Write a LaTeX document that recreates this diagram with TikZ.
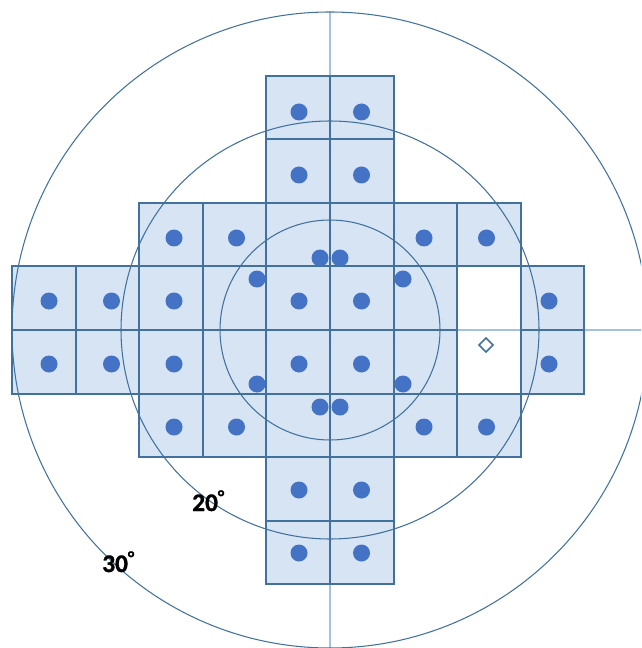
\documentclass[tikz,border=0pt]{standalone}
\usepackage{fontspec}
\setmainfont{Carlito}[BoldFont={Carlito Bold}]
\newfontfamily\lblfont{Carlito Bold}[FakeBold=1.2]
\usepackage{xcolor}
\definecolor{cellfill}{HTML}{D6E4F4}
\definecolor{cellline}{HTML}{41719C}
\definecolor{ringline}{HTML}{41719C}
\definecolor{axisline}{HTML}{A3C2E3}
\definecolor{dotblue}{HTML}{4472C4}
\usepackage{tikz}
\usetikzlibrary{positioning}

\newcommand{\degmark}{\raisebox{0.32em}{\fontsize{13}{13}\selectfont °}}

\begin{document}
\begin{tikzpicture}[
  x=0.025cm, y=-0.025cm,
  cell/.style={draw=cellline,fill=cellfill,line width=1.4pt},
  blind/.style={draw=cellline,line width=1.4pt},
  ring/.style={draw=ringline,line width=0.75pt},
  axis/.style={draw=axisline,line width=1.1pt},
  spot/.style={fill=dotblue},
  deg/.style={font=\lblfont\fontsize{18}{20}\selectfont,inner sep=0pt}
]
\useasboundingbox (0,0) rectangle (641,648);
\clip (0,0) rectangle (641,648);
\def\cs{63.6}
% Axes
\draw[axis] (330,12) -- (330,648);
\draw[axis] (12,330) -- (648,330);
% Test grid
\foreach \r in {0,1,6,7}
  \foreach \c in {4,5}
    \draw[cell] ({12+\c*\cs},{75.6+\r*\cs}) rectangle +(\cs,\cs);
\foreach \r in {2,5}
  \foreach \c in {2,...,7}
    \draw[cell] ({12+\c*\cs},{75.6+\r*\cs}) rectangle +(\cs,\cs);
\foreach \r in {3,4}
  \foreach \c in {0,...,6,8}
    \draw[cell] ({12+\c*\cs},{75.6+\r*\cs}) rectangle +(\cs,\cs);
% Blind spot
\draw[blind] ({12+7*\cs},{75.6+3*\cs}) rectangle +(\cs,2*\cs);
\draw[cellline,line width=1.1pt] (486,338) -- (493,345) -- (486,352) -- (479,345) -- cycle;
% Eccentricity rings
\draw[ring] (330,330) circle[radius=110];
\draw[ring] (330,330) circle[radius=209];
\draw[ring] (330,330) circle[radius=318];
% Test points
\foreach \r in {0,1,6,7}
  \foreach \c in {4,5}
    \fill[spot] ({49+62.5*\c},{112+63*\r}) circle[radius=8.5];
\foreach \r in {2,5}
  \foreach \c in {2,3,6,7}
    \fill[spot] ({49+62.5*\c},{112+63*\r}) circle[radius=8.5];
\foreach \r in {3,4}
  \foreach \c in {0,1,2,4,5,8}
    \fill[spot] ({49+62.5*\c},{112+63*\r}) circle[radius=8.5];
\foreach \p in {(257,279),(403,279),(257,384),(403,384),(320,258),(340,258),(320,407),(340,407)}
  \fill[spot] \p circle[radius=8.5];
% Labels
\node[deg,anchor=base west] (lbl20) at (192,511) {20\degmark};
\node[deg,anchor=base west] (lbl30) at (102,572) {30\degmark};
\end{tikzpicture}
\end{document}
